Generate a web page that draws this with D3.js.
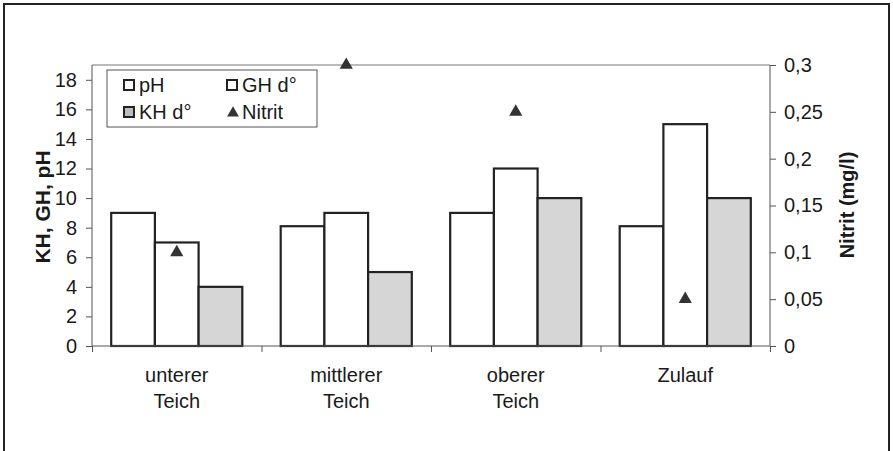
<!DOCTYPE html>
<html><head><meta charset="utf-8">
<script src="https://cdn.jsdelivr.net/npm/d3@7"></script>
<style>body{margin:0;background:#fff}svg{display:block}text{font-family:"Liberation Sans",Arial,sans-serif;fill:#1a1a1a}</style>
</head><body><svg id="c" width="893" height="451"></svg>
<script>
const categories = [["unterer","Teich"],["mittlerer","Teich"],["oberer","Teich"],["Zulauf"]];
const pH = [9, 8.1, 9, 8.1];
const GH = [7, 9, 12, 15];
const KH = [4, 5, 10, 10];
const nitrit = [0.1, 0.3, 0.25, 0.05];
const leftTicks = [0,2,4,6,8,10,12,14,16,18];
const rightTicks = [0,0.05,0.1,0.15,0.2,0.25,0.3];
const rightTickLabels = ["0","0,05","0,1","0,15","0,2","0,25","0,3"];

const svg = d3.select("#c");
const L = 92, R = 770, T = 65, B = 346;
const FS = 20;
// outer frame
svg.append("rect").attr("x",4).attr("y",4).attr("width",885).attr("height",460)
  .attr("fill","none").attr("stroke","#222").attr("stroke-width",2);

const x = d3.scaleBand().domain(d3.range(4)).range([L,R]).paddingInner(0).paddingOuter(0);
const yL = d3.scaleLinear().domain([0,19]).range([B,T]);
const yR = d3.scaleLinear().domain([0,0.3]).range([B,T]);

// plot top line
svg.append("line").attr("x1",L).attr("x2",R).attr("y1",T).attr("y2",T).attr("stroke","#777").attr("stroke-width",1);

const bw = 43.7;
const series = [{v:pH,fill:"#fff"},{v:GH,fill:"#fff"},{v:KH,fill:"#d6d6d6"}];
series.forEach((s,si)=>{
  svg.append("g").selectAll("rect").data(s.v).join("rect")
    .attr("x",(d,i)=>x(i)+x.bandwidth()/2 - 1.5*bw + si*bw)
    .attr("y",d=>yL(d)).attr("width",bw).attr("height",d=>B-yL(d))
    .attr("fill",s.fill).attr("stroke","#222").attr("stroke-width",2.2);
});

// left axis
const axL = svg.append("g").attr("transform",`translate(${L},0)`)
  .call(d3.axisLeft(yL).tickValues(leftTicks).tickSize(6).tickPadding(9).tickFormat(d3.format("d")));
axL.select(".domain").attr("d",`M0,${T}V${B}`);
// right axis
const axR = svg.append("g").attr("transform",`translate(${R},0)`)
  .call(d3.axisRight(yR).tickValues(rightTicks).tickSize(6).tickPadding(8).tickFormat((d,i)=>rightTickLabels[i]));
axR.select(".domain").attr("d",`M0,${T}V${B}`);
// bottom axis
const axB = svg.append("g").attr("transform",`translate(0,${B})`)
  .call(d3.axisBottom(d3.scaleLinear().domain([0,4]).range([L,R])).tickValues([0,1,2,3,4]).tickSize(6).tickFormat(""));
axB.select(".domain").attr("d",`M${L},0H${R}`);
[axL,axR,axB].forEach(a=>{
  a.attr("font-size",FS).attr("font-family","Liberation Sans, Arial, sans-serif");
  a.selectAll(".domain").attr("stroke","#555").attr("stroke-width",1);
  a.selectAll(".tick line").attr("stroke","#555");
  a.selectAll("text").attr("font-size",FS).attr("fill","#1a1a1a");
});

// category labels
categories.forEach((lines,i)=>{
  const t = svg.append("text").attr("text-anchor","middle").attr("font-size",FS);
  lines.forEach((ln,j)=>t.append("tspan").attr("x",x(i)+x.bandwidth()/2).attr("y",382+j*26).text(ln));
});

// nitrit triangles
const tri = d3.symbol().type(d3.symbolTriangle).size(75);
svg.append("g").selectAll("path").data(nitrit).join("path")
  .attr("d",tri).attr("fill","#333")
  .attr("transform",(d,i)=>`translate(${x(i)+x.bandwidth()/2},${yR(d)})`);

// axis titles
svg.append("text").attr("transform","translate(50,207) rotate(-90)").attr("text-anchor","middle")
  .attr("font-size",21).attr("font-weight","bold").text("KH, GH, pH");
svg.append("text").attr("transform","translate(854,205) rotate(-90)").attr("text-anchor","middle")
  .attr("font-size",20).attr("font-weight","bold").text("Nitrit (mg/l)");

// legend
const lg = svg.append("g");
lg.append("rect").attr("x",107).attr("y",70).attr("width",210).attr("height",57)
  .attr("fill","#fff").attr("stroke","#555").attr("stroke-width",1);
const items = [
  {name:"pH",type:"sq",fill:"#fff",x:124,y:85},
  {name:"GH d°",type:"sq",fill:"#fff",x:227,y:85},
  {name:"KH d°",type:"sq",fill:"#bdbdbd",x:124,y:112},
  {name:"Nitrit",type:"tri",x:227,y:112}
];
items.forEach(it=>{
  if(it.type==="sq"){
    lg.append("rect").attr("x",it.x).attr("y",it.y-5).attr("width",10).attr("height",10)
      .attr("fill",it.fill).attr("stroke","#222").attr("stroke-width",2);
  } else {
    lg.append("path").attr("d",d3.symbol().type(d3.symbolTriangle).size(60))
      .attr("fill","#333").attr("transform",`translate(${it.x+6},${it.y+1})`);
  }
  lg.append("text").attr("x",it.x+15).attr("y",it.y+7).attr("font-size",FS).text(it.name);
});
</script></body></html>
